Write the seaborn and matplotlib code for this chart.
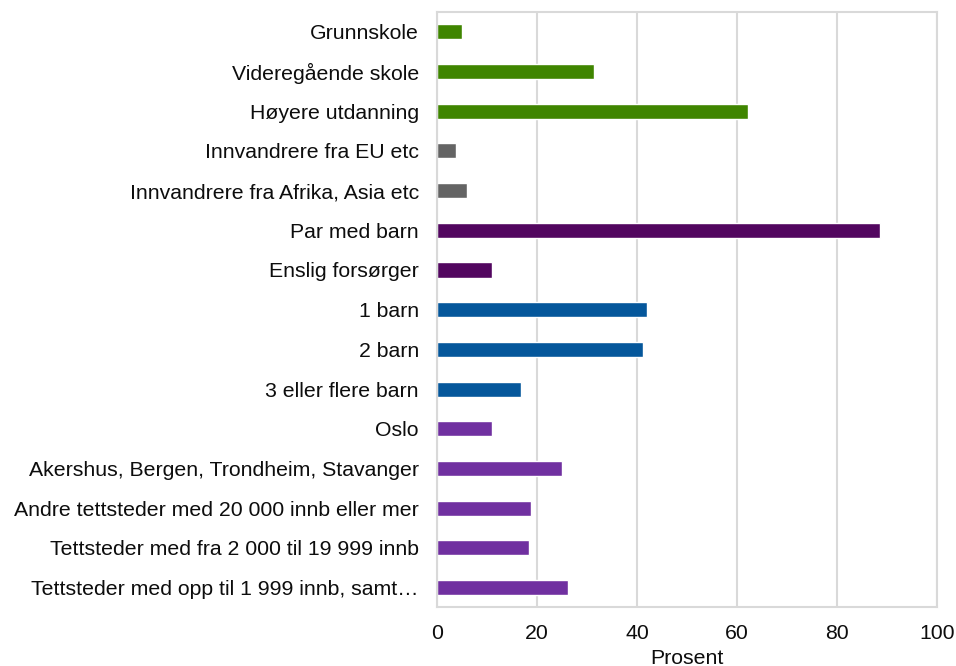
import pandas as pd
import matplotlib
matplotlib.use("Agg")
import matplotlib.pyplot as plt
import seaborn as sns

# Categories, shares (percent) and group for colouring
labels = [
    "Grunnskole",
    "Videregående skole",
    "Høyere utdanning",
    "Innvandrere fra EU etc",
    "Innvandrere fra Afrika, Asia etc",
    "Par med barn",
    "Enslig forsørger",
    "1 barn",
    "2 barn",
    "3 eller flere barn",
    "Oslo",
    "Akershus, Bergen, Trondheim, Stavanger",
    "Andre tettsteder med 20 000 innb eller mer",
    "Tettsteder med fra 2 000 til 19 999 innb",
    "Tettsteder med opp til 1 999 innb, samt…",
]
values = [5.1, 31.5, 62.3, 3.8, 6.0, 88.6, 11.1, 42.0, 41.2, 16.8,
          11.1, 25.0, 18.8, 18.4, 26.2]
groups = ["utdanning"] * 3 + ["innvandring"] * 2 + ["familie"] * 2 + \
         ["barn"] * 3 + ["bosted"] * 5

palette = {
    "utdanning": "#3F8500",
    "innvandring": "#646464",
    "familie": "#52065F",
    "barn": "#05579B",
    "bosted": "#7030A0",
}

df = pd.DataFrame({"label": labels, "value": values, "group": groups})

sns.set_style("white")
plt.rcParams["font.family"] = ["Liberation Sans", "DejaVu Sans"]

fig, ax = plt.subplots(figsize=(9.56, 6.66), dpi=100)
fig.subplots_adjust(left=0.457, right=0.98, top=0.982, bottom=0.088)

sns.barplot(data=df, x="value", y="label", hue="group", palette=palette,
            dodge=False, width=0.38, legend=False, ax=ax, saturation=1)

ax.set_xlim(0, 100)
ax.set_xticks([0, 20, 40, 60, 80, 100])
ax.xaxis.grid(True, color="#D9D9D9", linewidth=1.5)
ax.set_axisbelow(True)
ax.set_ylabel("")
ax.set_xlabel("Prosent", fontsize=15.3, labelpad=4, color="#0d0d0d")
ax.tick_params(axis="both", labelsize=15.3, length=0, colors="#0d0d0d")
ax.tick_params(axis="y", pad=13)
ax.tick_params(axis="x", pad=12)
for s in ax.spines.values():
    s.set_color("#D9D9D9")
    s.set_linewidth(1.5)

fig.savefig("out.png", dpi=100)
